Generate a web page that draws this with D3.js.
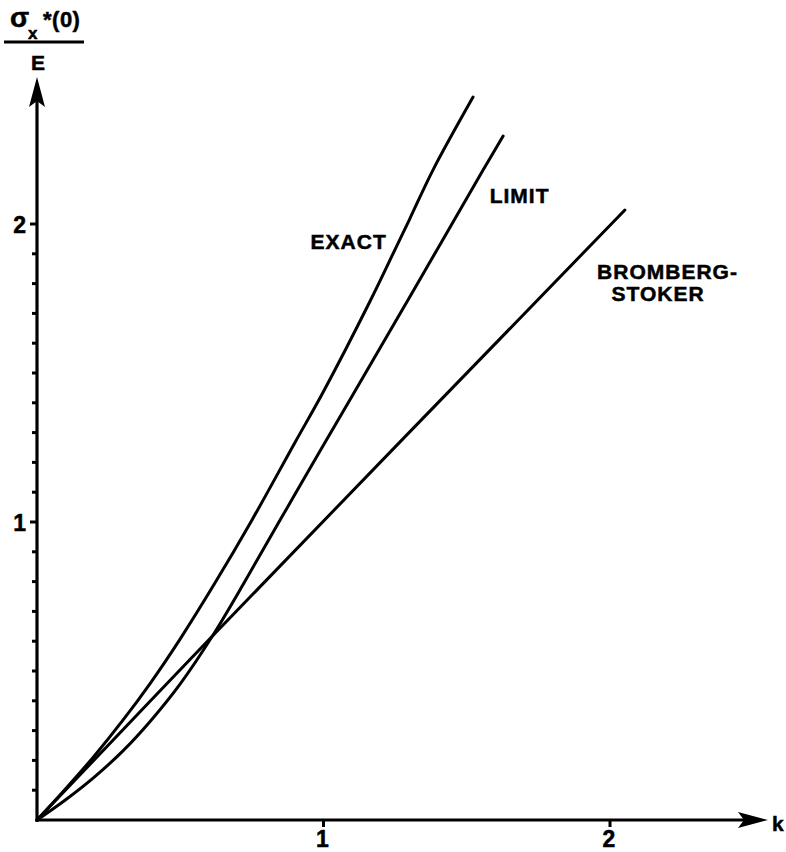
<!DOCTYPE html>
<html><head><meta charset="utf-8">
<script src="https://cdn.jsdelivr.net/npm/d3@7"></script>
<style>
html,body{margin:0;padding:0;background:#fff;}
svg text{font-family:"Liberation Sans",Arial,sans-serif;font-weight:bold;fill:#000;stroke:#000;stroke-width:0.5;}
</style></head>
<body>
<script>
// ---- data ----
const exactK = [0, 0.1, 0.2, 0.3, 0.394, 0.5, 0.621, 0.75, 0.9, 1.0, 1.162, 1.25, 1.3, 1.382, 1.522];
const exactY = [0, 0.105, 0.215, 0.335, 0.457, 0.608, 0.795, 1.006, 1.266, 1.438, 1.74, 1.915, 2.015, 2.181, 2.426];
const limitK = [0, 0.1, 0.2, 0.3, 0.394, 0.5, 0.614, 0.726, 0.85, 1.0, 1.1, 1.295, 1.557, 1.627];
const limitY = [0, 0.068, 0.144, 0.232, 0.33, 0.457, 0.62, 0.801, 1.009, 1.258, 1.423, 1.745, 2.181, 2.295];
const bsK = [0, 0.62, 2.052];
const bsY = [0, 0.625, 2.047];
const xTickValues = [1, 2];
const xTickLabels = ["1", "2"];
const yTickValues = [1, 2];
const yTickLabels = ["1", "2"];
const yMinorTicks = d3.range(1, 21).map(i => i / 10);
const curveLabels = [
  {text: "EXACT", k: 0.955, y: 1.915},
  {text: "LIMIT", k: 1.58, y: 2.07},
  {text: "BROMBERG-", k: 1.955, y: 1.815},
  {text: "STOKER", k: 2.005, y: 1.74}
];

const W = 786, H = 852;
const x = d3.scaleLinear().domain([0, 2.55]).range([37, 37 + 2.55 * 286.5]);
const y = d3.scaleLinear().domain([0, 2.5]).range([820, 820 - 2.5 * 298]);

const svg = d3.select("body").append("svg").attr("width", W).attr("height", H);

// axes
const x0 = x(0), y0 = y(0);
const yTip = 77, xTip = 768;
svg.append("line").attr("x1", x0).attr("y1", y0 + 2).attr("x2", x0).attr("y2", yTip + 20)
  .attr("stroke", "#000").attr("stroke-width", 3.2);
svg.append("line").attr("x1", x0 - 1).attr("y1", y0).attr("x2", xTip - 20).attr("y2", y0)
  .attr("stroke", "#000").attr("stroke-width", 3.2);
// arrowheads
svg.append("path").attr("d", `M${x0},${yTip} L${x0 + 8},${yTip + 30} L${x0},${yTip + 24} L${x0 - 8},${yTip + 30} Z`)
  .attr("fill", "#000");
svg.append("path").attr("d", `M${xTip},${y0} L${xTip - 30},${y0 - 8} L${xTip - 24},${y0} L${xTip - 30},${y0 + 8} Z`)
  .attr("fill", "#000");

// y ticks
svg.selectAll(".ymin").data(yMinorTicks).enter().append("line")
  .attr("x1", x0).attr("x2", d => (Math.abs(d - Math.round(d)) < 1e-6) ? x0 - 7 : x0 - 5)
  .attr("y1", d => y(d)).attr("y2", d => y(d))
  .attr("stroke", "#000").attr("stroke-width", 3);
svg.selectAll(".ylab").data(yTickValues).enter().append("text")
  .attr("x", 26).attr("y", d => y(d) + 9)
  .attr("text-anchor", "end").attr("font-size", 23)
  .text((d, i) => yTickLabels[i]);

// x ticks
svg.selectAll(".xt").data(xTickValues).enter().append("line")
  .attr("x1", d => x(d)).attr("x2", d => x(d)).attr("y1", y0).attr("y2", y0 + 7)
  .attr("stroke", "#000").attr("stroke-width", 3);
svg.selectAll(".xlab").data(xTickValues).enter().append("text")
  .attr("x", d => x(d) - 1).attr("y", y0 + 27)
  .attr("text-anchor", "middle").attr("font-size", 23)
  .text((d, i) => xTickLabels[i]);

// curves
const line = d3.line().x(d => x(d[0])).y(d => y(d[1])).curve(d3.curveCatmullRom.alpha(0.5));
const series = [
  d3.zip(exactK, exactY),
  d3.zip(limitK, limitY),
  d3.zip(bsK, bsY)
];
svg.selectAll(".curve").data(series).enter().append("path")
  .attr("d", line).attr("fill", "none").attr("stroke", "#000")
  .attr("stroke-width", 3).attr("stroke-linecap", "round");

// curve labels
svg.selectAll(".clab").data(curveLabels).enter().append("text")
  .attr("x", d => x(d.k)).attr("y", d => y(d.y))
  .attr("font-size", 21).attr("letter-spacing", 1.0)
  .text(d => d.text);

// axis labels
svg.append("text").attr("x", 772).attr("y", 831).attr("font-size", 21).text("k");
const t = svg.append("g");
t.append("text").attr("x", 10).attr("y", 27).attr("font-size", 28).text("σ");
t.append("text").attr("x", 28).attr("y", 39).attr("font-size", 17).text("x");
t.append("text").attr("x", 43).attr("y", 27).attr("font-size", 22).text("*(0)").attr("letter-spacing", 0.5);
t.append("line").attr("x1", 4).attr("x2", 84).attr("y1", 42).attr("y2", 42).attr("stroke", "#000").attr("stroke-width", 3);
t.append("text").attr("x", 38).attr("y", 70).attr("text-anchor", "middle").attr("font-size", 21).text("E");
</script>
</body></html>
